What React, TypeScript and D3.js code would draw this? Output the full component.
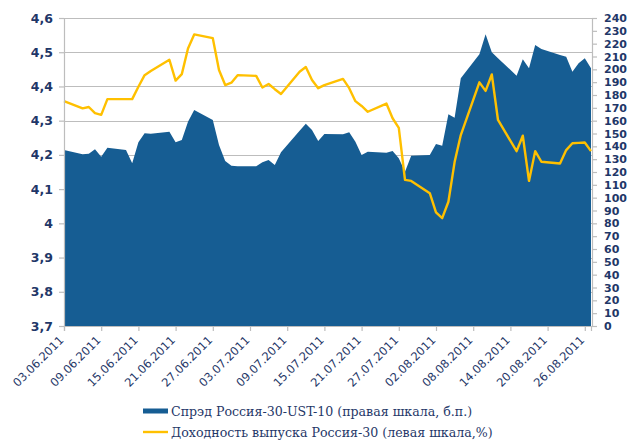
import React, { useEffect, useRef } from 'react'
import * as d3 from 'd3'

// trading dates (dd.mm.yyyy)
const dates = [
  '03.06.2011', '06.06.2011', '07.06.2011', '08.06.2011', '09.06.2011', '10.06.2011', '13.06.2011',
  '14.06.2011', '15.06.2011', '16.06.2011', '17.06.2011', '20.06.2011', '21.06.2011', '22.06.2011',
  '23.06.2011', '24.06.2011', '27.06.2011', '28.06.2011', '29.06.2011', '30.06.2011',
  '01.07.2011', '04.07.2011', '05.07.2011', '06.07.2011', '07.07.2011', '08.07.2011', '11.07.2011',
  '12.07.2011', '13.07.2011', '14.07.2011', '15.07.2011', '18.07.2011', '19.07.2011', '20.07.2011',
  '21.07.2011', '22.07.2011', '25.07.2011', '26.07.2011', '27.07.2011', '28.07.2011', '29.07.2011',
  '01.08.2011', '02.08.2011', '03.08.2011', '04.08.2011', '05.08.2011', '06.08.2011', '09.08.2011',
  '10.08.2011', '11.08.2011', '12.08.2011', '15.08.2011', '16.08.2011', '17.08.2011', '18.08.2011',
  '19.08.2011', '22.08.2011', '23.08.2011', '24.08.2011', '25.08.2011', '26.08.2011', '27.08.2011'
]

// Спрэд Россия-30-UST-10, б.п. (right axis)
const spread = [
  137.1, 133.8, 134.3, 137.7, 131.9, 138.9, 137.1, 126.8, 143.1, 150.2, 149.8, 151.4, 143.1, 144.9,
  159.2, 168.3, 160.5, 141.0, 128.6, 124.9,
  124.4, 124.4, 127.6, 129.3, 125.5, 135.3, 152.1, 157.6, 152.7, 144.2, 149.6, 149.4, 150.9, 143.6,
  133.2, 135.8, 135.0, 136.4, 130.7, 120.2, 132.7,
  133.2, 141.8, 140.5, 165.0, 162.3, 193.0, 211.7, 227.3, 213.3, 208.7, 195.0, 207.8, 200.8, 219.0,
  215.8, 211.2, 209.8, 198.2, 204.7, 208.6, 200.8
]

// Доходность выпуска Россия-30, % (left axis)
const yieldR30 = [
  4.357, 4.336, 4.340, 4.322, 4.317, 4.363, 4.363, 4.363, 4.399, 4.433, 4.445, 4.478, 4.417, 4.436,
  4.511, 4.552, 4.541, 4.448, 4.404, 4.411,
  4.433, 4.431, 4.397, 4.407, 4.392, 4.378, 4.443, 4.457, 4.419, 4.395, 4.404, 4.422, 4.395, 4.357,
  4.343, 4.326, 4.350, 4.307, 4.279, 4.127, 4.124,
  4.088, 4.032, 4.015, 4.063, 4.179, 4.258, 4.412, 4.387, 4.435, 4.302, 4.211, 4.256, 4.124, 4.211,
  4.180, 4.175, 4.214, 4.234, 4.235, 4.236, 4.211
]

const xTickLabels = [
  '03.06.2011', '09.06.2011', '15.06.2011', '21.06.2011', '27.06.2011', '03.07.2011', '09.07.2011',
  '15.07.2011', '21.07.2011', '27.07.2011', '02.08.2011', '08.08.2011', '14.08.2011', '20.08.2011',
  '26.08.2011'
]
const leftTicks = [3.7, 3.8, 3.9, 4.0, 4.1, 4.2, 4.3, 4.4, 4.5, 4.6]
const rightTicks = d3.range(0, 250, 10)

const legendItems = [
  'Спрэд Россия-30-UST-10 (правая шкала, б.п.)',
  'Доходность выпуска Россия-30 (левая шкала,%)'
]

const BLUE = '#165d93'
const YELLOW = '#ffc000'
const NAVY = '#1f3768'
const GRID = '#bdbdbd'

export default function App() {
  const ref = useRef<SVGSVGElement>(null)

  useEffect(() => {
    const svg = d3.select(ref.current)
    svg.selectAll('*').remove()

    const parse = d3.timeParse('%d.%m.%Y')
    const fmt = d3.timeFormat('%d.%m.%Y')
    const ru = d3.formatLocale({ decimal: ',', thousands: ' ', grouping: [3], currency: ['', ''] })
    const fmtLeft = ru.format('~g')

    const left = 64
    const right = 591
    const top = 18
    const bottom = 326

    const x = d3
      .scaleTime()
      .domain([parse('03.06.2011'), parse('27.08.2011')])
      .range([left, right])
    const yL = d3.scaleLinear().domain([3.7, 4.6]).range([bottom, top])
    const yR = d3.scaleLinear().domain([0, 240]).range([bottom, top])

    const rows = dates.map((d, i) => ({ date: parse(d), s: spread[i], y: yieldR30[i] }))

    // gridlines
    svg
      .append('g')
      .selectAll('line')
      .data(leftTicks)
      .enter()
      .append('line')
      .attr('x1', left)
      .attr('x2', right + 1)
      .attr('y1', d => Math.round(yL(d)) + 0.5)
      .attr('y2', d => Math.round(yL(d)) + 0.5)
      .attr('stroke', GRID)
      .attr('stroke-width', 1.2)

    // spread area
    const area = d3
      .area<any>()
      .x(d => x(d.date))
      .y0(yR(0))
      .y1(d => yR(d.s))
    svg.append('path').datum(rows).attr('d', area).attr('fill', BLUE)

    // yield line
    const line = d3
      .line<any>()
      .x(d => x(d.date))
      .y(d => yL(d.y))
    svg
      .append('path')
      .datum(rows)
      .attr('d', line)
      .attr('fill', 'none')
      .attr('stroke', YELLOW)
      .attr('stroke-width', 2.4)
      .attr('stroke-linejoin', 'round')

    // left axis
    const gL = svg
      .append('g')
      .attr('transform', 'translate(' + left + ',0)')
      .call(d3.axisLeft(yL).tickValues(leftTicks).tickFormat(fmtLeft as any).tickSize(5).tickPadding(6))
    gL.selectAll('path, line').attr('stroke', GRID).attr('stroke-width', 1.2)
    gL.selectAll('text')
      .attr('fill', NAVY)
      .attr('font-family', 'DejaVu Sans')
      .attr('font-weight', 'bold')
      .attr('font-size', 12.5)

    // right axis
    const gR = svg
      .append('g')
      .attr('transform', 'translate(' + (right + 1) + ',0)')
      .call(d3.axisRight(yR).tickValues(rightTicks).tickSize(5).tickPadding(7))
    gR.selectAll('path, line').attr('stroke', GRID).attr('stroke-width', 1.2)
    gR.selectAll('text')
      .attr('fill', NAVY)
      .attr('font-family', 'DejaVu Sans')
      .attr('font-weight', 'bold')
      .attr('font-size', 11)

    // bottom axis
    const gB = svg
      .append('g')
      .attr('transform', 'translate(0,' + bottom + ')')
      .call(
        d3
          .axisBottom(x)
          .tickValues(xTickLabels.map(d => parse(d)) as any)
          .tickFormat(fmt as any)
          .tickSize(5)
      )
    gB.select('.domain').attr('stroke', GRID).attr('stroke-width', 1.2)
    gB.selectAll('line').attr('stroke', GRID).attr('stroke-width', 1.2)
    gB.selectAll('text')
      .attr('fill', NAVY)
      .attr('font-family', 'DejaVu Sans')
      .attr('font-size', 11.5)
      .attr('text-anchor', 'end')
      .attr('transform', 'translate(-3,12) rotate(-45)')
      .attr('dy', '0.35em')
      .attr('y', 0)
      .attr('x', 0)

    // legend
    const lg = svg.append('g')
    legendItems.forEach((t, i) => {
      const cy = 411 + i * 21
      if (i === 0) {
        lg.append('rect').attr('x', 143).attr('y', cy - 2.5).attr('width', 25).attr('height', 5).attr('fill', BLUE)
      } else {
        lg.append('line')
          .attr('x1', 143)
          .attr('x2', 168)
          .attr('y1', cy)
          .attr('y2', cy)
          .attr('stroke', YELLOW)
          .attr('stroke-width', 2.4)
      }
      lg.append('text')
        .attr('x', 171)
        .attr('y', cy + 4.5)
        .attr('fill', NAVY)
        .attr('font-family', 'DejaVu Serif')
        .attr('font-size', 12.6)
        .text(t)
    })
  }, [])

  return (
    <svg
      ref={ref}
      width={630}
      height={441}
      style={{ position: 'absolute', left: 0, top: 0, background: '#fff' }}
    />
  )
}
